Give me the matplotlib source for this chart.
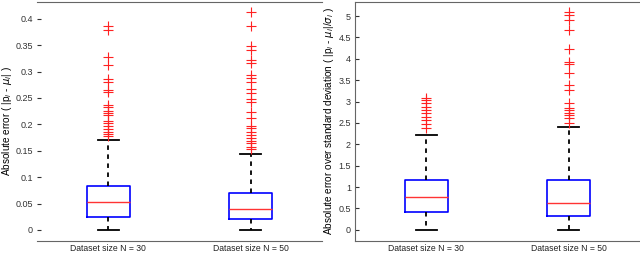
import matplotlib.pyplot as plt
import numpy as np

plt.rcParams['font.family'] = ['Liberation Sans', 'DejaVu Sans']

groups = ['Dataset size N = 30', 'Dataset size N = 50']

# left panel: absolute error
abs_q1 = [0.025, 0.020]
abs_med = [0.052, 0.039]
abs_q3 = [0.0834, 0.0695]
abs_whislo = [0.0, 0.0]
abs_whishi = [0.170, 0.143]
abs_fliers_30 = [0.387, 0.379, 0.327, 0.312, 0.286, 0.281, 0.265, 0.262, 0.237, 0.233,
                 0.226, 0.221, 0.217, 0.207, 0.202, 0.197, 0.191, 0.186, 0.182, 0.178]
abs_fliers_50 = [0.413, 0.387, 0.349, 0.341, 0.322, 0.316, 0.294, 0.288, 0.281, 0.267,
                 0.259, 0.248, 0.243, 0.223, 0.212, 0.197, 0.193, 0.185, 0.180, 0.174,
                 0.169, 0.164, 0.158, 0.153]

# right panel: absolute error over std
std_q1 = [0.42, 0.335]
std_med = [0.78, 0.64]
std_q3 = [1.17, 1.17]
std_whislo = [0.0, 0.0]
std_whishi = [2.22, 2.41]
std_fliers_30 = [3.09, 3.04, 2.96, 2.88, 2.80, 2.73, 2.65, 2.57, 2.48, 2.38]
std_fliers_50 = [5.10, 5.02, 4.91, 4.67, 4.23, 3.93, 3.87, 3.66, 3.39, 3.27,
                 2.96, 2.84, 2.80, 2.74, 2.69, 2.61, 2.51]


def make_stats(q1, med, q3, lo, hi, fliers):
    stats = []
    for i in range(len(q1)):
        stats.append(dict(q1=q1[i], med=med[i], q3=q3[i], whislo=lo[i], whishi=hi[i],
                          fliers=fliers[i], label=groups[i]))
    return stats


def draw(ax, stats):
    ax.bxp(stats, positions=[1, 2], widths=0.3, showfliers=True,
           boxprops=dict(color='#0000ff', linewidth=1.2),
           medianprops=dict(color='#ff3333', linewidth=1.0),
           whiskerprops=dict(color='black', linewidth=1.3, linestyle=(0, (2.5, 2.5))),
           capprops=dict(color='black', linewidth=1.3),
           capwidths=0.15,
           flierprops=dict(marker='+', markeredgecolor='#ff2222', markersize=6.5,
                           markeredgewidth=0.8, linestyle='none'))
    ax.set_xlim(0.5, 2.5)
    for s in ax.spines.values():
        s.set_color('#666666')
    ax.tick_params(axis='y', direction='in', length=3, labelsize=6.5,
                   colors='#333333', pad=3)
    ax.tick_params(axis='x', length=0, labelsize=6.2, colors='#222222', pad=2)


fig = plt.figure(figsize=(6.4, 2.56), dpi=100)

ax1 = fig.add_axes([0.058, 0.0586, 0.445, 0.934])
draw(ax1, make_stats(abs_q1, abs_med, abs_q3, abs_whislo, abs_whishi,
                     [abs_fliers_30, abs_fliers_50]))
ax1.set_ylim(-0.021, 0.432)
ax1.set_yticks(np.arange(0, 0.401, 0.05))
ax1.set_yticklabels(['0', '0.05', '0.1', '0.15', '0.2', '0.25', '0.3', '0.35', '0.4'])
ax1.spines['left'].set_visible(False)
ax1.spines['right'].set_visible(False)
ax1.set_ylabel('Absolute error ( |p$_i$ - $\\mu_i$| )', fontsize=7.2)
ax1.yaxis.set_label_coords(-0.082, 0.5)

ax2 = fig.add_axes([0.555, 0.0586, 0.445, 0.934])
draw(ax2, make_stats(std_q1, std_med, std_q3, std_whislo, std_whishi,
                     [std_fliers_30, std_fliers_50]))
ax2.set_ylim(-0.26, 5.33)
ax2.set_yticks(np.arange(0, 5.01, 0.5))
ax2.set_yticklabels(['0', '0.5', '1', '1.5', '2', '2.5', '3', '3.5', '4', '4.5', '5'])
ax2.spines['right'].set_visible(False)
ax2.set_ylabel('Absolute error over standard deviation ( |p$_i$ - $\\mu_i$|/$\\sigma_i$ )',
               fontsize=7.2, labelpad=2)

fig.savefig('out.png', dpi=100)
